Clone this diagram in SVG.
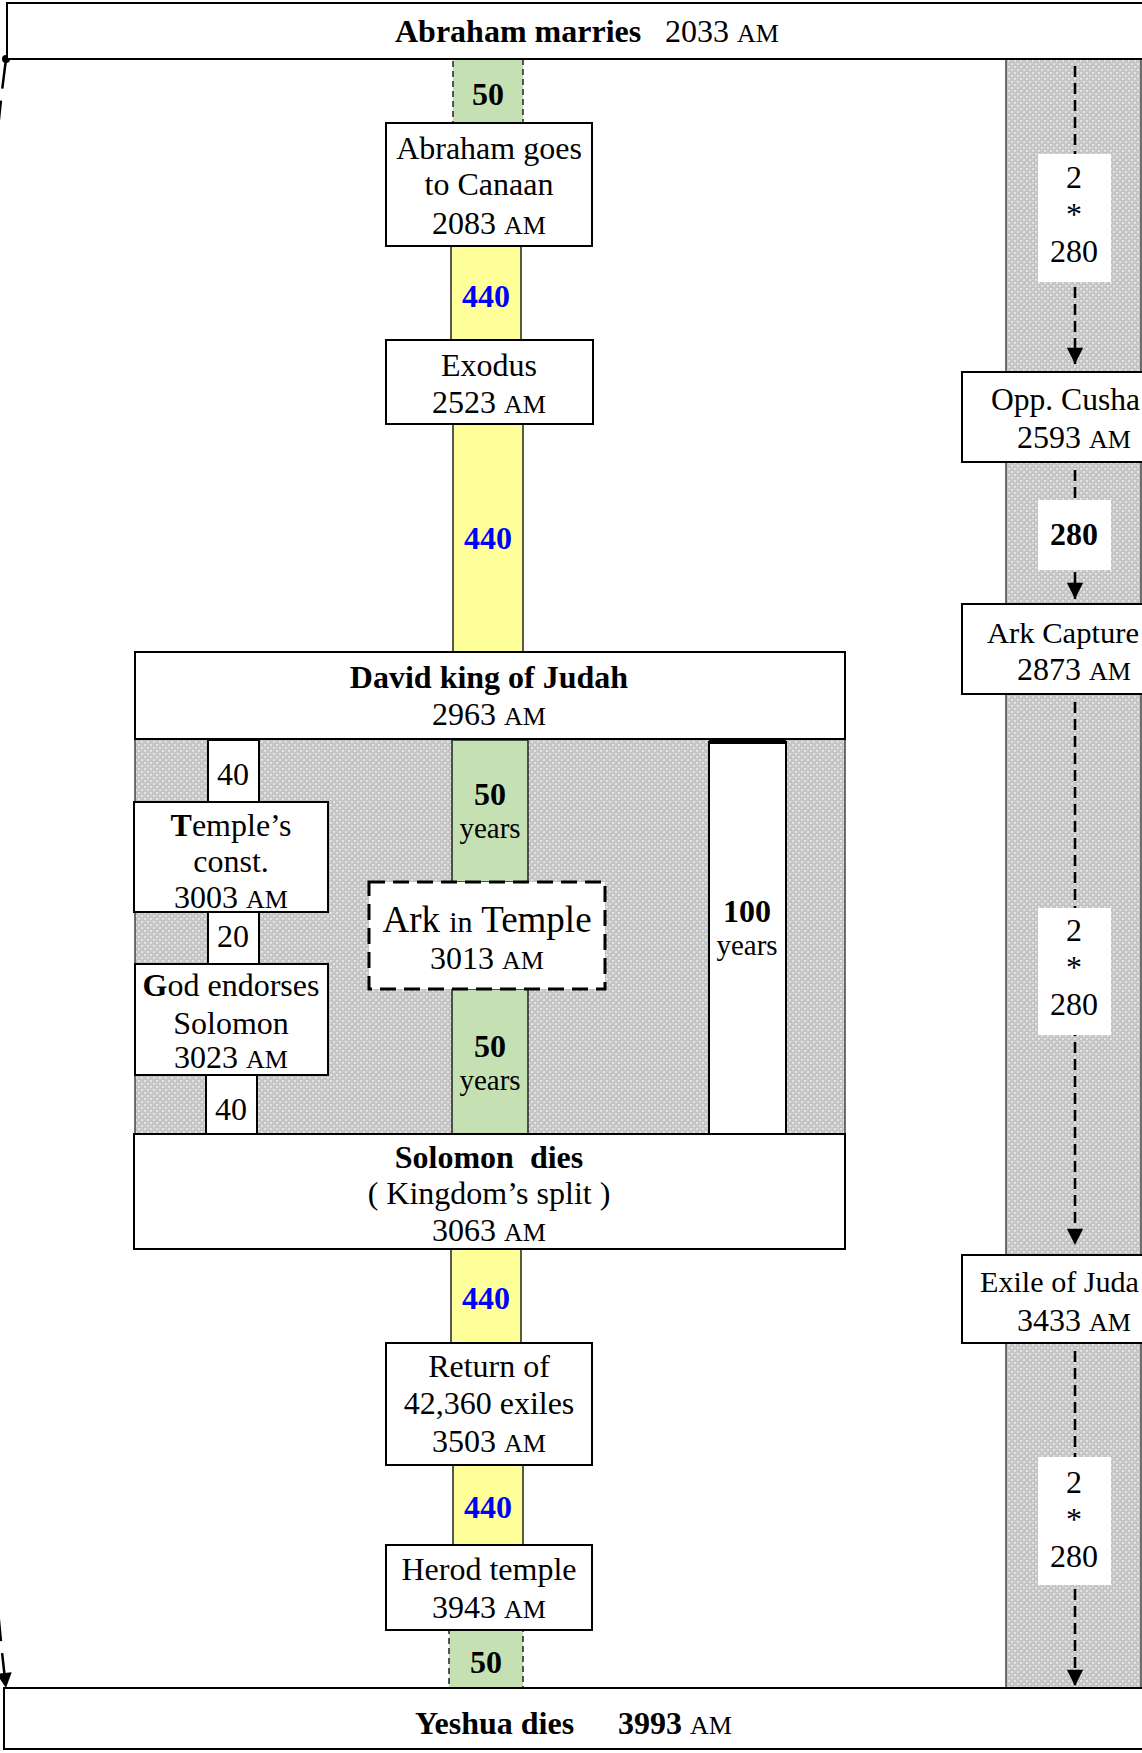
<svg xmlns="http://www.w3.org/2000/svg" width="1142" height="1753" viewBox="0 0 1142 1753">
<defs>
<pattern id="hatch" width="6" height="6" patternUnits="userSpaceOnUse">
<rect width="6" height="6" fill="#c4c4c4"/>
<rect x="0" y="0" width="2" height="2" fill="#e4e4e4"/>
<rect x="3" y="3" width="2" height="2" fill="#e4e4e4"/>
<rect x="3" y="0" width="1" height="1" fill="#d6d6d6"/>
<rect x="0" y="3" width="1" height="1" fill="#d6d6d6"/>
</pattern>
<marker id="tri" viewBox="0 0 10 10" refX="10" refY="5" markerWidth="7" markerHeight="6.5" orient="auto" markerUnits="strokeWidth">
<path d="M0,0 L10,5 L0,10 z" fill="#000"/>
</marker>
<marker id="tri2" viewBox="0 0 10 10" refX="10" refY="5" markerWidth="6.5" markerHeight="6" orient="auto" markerUnits="strokeWidth">
<path d="M0,0 L10,5 L0,10 z" fill="#000"/>
</marker>
</defs>
<style>
text{font-family:"Liberation Serif","Times New Roman",serif;fill:#000;font-size:32px}
.c{text-anchor:middle}
.b{font-weight:bold}
.sc{font-size:26px}
.yr{font-size:29px}
.r30{font-size:30px}
.ark{font-size:37px}
.in{font-size:30px}
.blue{fill:#0000ff;font-weight:bold}
.box{fill:#fff;stroke:#000;stroke-width:2}
.yel{fill:#ffff99;stroke:#222;stroke-width:1.5}
.grn{fill:#c5e0b3;stroke:#222;stroke-width:1.5}
.grnd{fill:#c5e0b3;stroke:#222;stroke-width:1.5;stroke-dasharray:6 4}
.gray{fill:url(#hatch);stroke:#444;stroke-width:1.5}
.wl{fill:#fff}
.arr{fill:none;stroke:#000;stroke-width:2.5;stroke-dasharray:11 6}
</style>

<!-- background strips -->
<rect id="right-strip" class="gray" x="1006" y="59" width="135" height="1629"/>
<rect id="mid-area" class="gray" x="135" y="739" width="710" height="395"/>

<!-- connectors -->
<g id="connectors">
<path class="arr" d="M6,59 C-40,400 -40,1300 6,1688" stroke-width="3" style="stroke-dasharray:30 12" marker-end="url(#tri2)"/>
<circle cx="6" cy="59" r="4" fill="#000"/>
<line class="arr" x1="1075" y1="66" x2="1075" y2="364" marker-end="url(#tri)"/>
<line class="arr" x1="1075" y1="470" x2="1075" y2="599" marker-end="url(#tri)"/>
<line class="arr" x1="1075" y1="702" x2="1075" y2="1245" marker-end="url(#tri)"/>
<line class="arr" x1="1075" y1="1351" x2="1075" y2="1686" marker-end="url(#tri)"/>
</g>

<!-- period bars -->
<g id="bar-50-top"><rect class="grnd" x="453" y="59" width="70" height="64"/><text class="c b" x="488" y="105">50</text></g>
<g id="bar-440-1"><rect class="yel" x="451" y="246" width="70" height="94"/><text class="c blue" x="486" y="307">440</text></g>
<g id="bar-440-2"><rect class="yel" x="453" y="424" width="70" height="228"/><text class="c blue" x="488" y="549">440</text></g>
<g id="bar-50-a"><rect class="grn" x="452" y="740" width="76" height="142"/><text class="c b" x="490" y="805">50</text><text class="c yr" x="490" y="838">years</text></g>
<g id="bar-50-b"><rect class="grn" x="452" y="989" width="76" height="145"/><text class="c b" x="490" y="1057">50</text><text class="c yr" x="490" y="1090">years</text></g>
<g id="bar-100"><rect fill="#fff" stroke="#000" stroke-width="2" x="709" y="742" width="77" height="392"/><path d="M709,742 H786" stroke="#000" stroke-width="4"/><text class="c b" x="747" y="922">100</text><text class="c yr" x="747" y="955">years</text></g>
<g id="bar-440-3"><rect class="yel" x="451" y="1249" width="70" height="94"/><text class="c blue" x="486" y="1309">440</text></g>
<g id="bar-440-4"><rect class="yel" x="453" y="1465" width="70" height="80"/><text class="c blue" x="488" y="1518">440</text></g>
<g id="bar-50-bottom"><rect class="grnd" x="449" y="1630" width="74" height="58"/><text class="c b" x="486" y="1673">50</text></g>
<g id="bar-40-a"><rect class="box" x="208" y="740" width="51" height="62" stroke-width="1.5"/><text class="c" x="233" y="785">40</text></g>
<g id="bar-20"><rect class="box" x="208" y="912" width="51" height="52" stroke-width="1.5"/><text class="c" x="233" y="947">20</text></g>
<g id="bar-40-b"><rect class="box" x="206" y="1075" width="51" height="59" stroke-width="1.5"/><text class="c" x="231" y="1120">40</text></g>

<!-- nodes -->
<g id="abraham-marries"><rect class="box" x="7" y="3" width="1145" height="56"/>
<text class="b" x="395" y="42">Abraham marries</text><text x="665" y="42">2033 <tspan class="sc">AM</tspan></text></g>

<g id="abraham-canaan"><rect class="box" x="386" y="123" width="206" height="123"/>
<text class="c" x="489" y="159">Abraham goes</text><text class="c" x="489" y="195">to Canaan</text><text class="c" x="489" y="234">2083 <tspan class="sc">AM</tspan></text></g>

<g id="exodus"><rect class="box" x="386" y="340" width="207" height="84"/>
<text class="c" x="489" y="376">Exodus</text><text class="c" x="489" y="413">2523 <tspan class="sc">AM</tspan></text></g>

<g id="david"><rect class="box" x="135" y="652" width="710" height="87"/>
<text class="c b" x="489" y="688">David king of Judah</text><text class="c" x="489" y="725">2963 <tspan class="sc">AM</tspan></text></g>

<g id="temple-const"><rect class="box" x="134" y="802" width="194" height="110"/>
<text class="c" x="231" y="836"><tspan class="b">T</tspan>emple’s</text><text class="c" x="231" y="872">const.</text><text class="c" x="231" y="908">3003 <tspan class="sc">AM</tspan></text></g>

<g id="god-endorses"><rect class="box" x="135" y="964" width="193" height="111"/>
<text class="c" x="231" y="996"><tspan class="b">G</tspan>od endorses</text><text class="c" x="231" y="1034">Solomon</text><text class="c" x="231" y="1068">3023 <tspan class="sc">AM</tspan></text></g>

<g id="ark-temple"><rect fill="#fff" stroke="#000" stroke-width="3" stroke-dasharray="16 8" x="369" y="882" width="236" height="107"/>
<text class="c ark" x="487" y="932">Ark <tspan class="in">in</tspan> Temple</text><text class="c" x="487" y="969">3013 <tspan class="sc">AM</tspan></text></g>

<g id="solomon-dies"><rect class="box" x="134" y="1134" width="711" height="115"/>
<text class="c b" x="489" y="1168">Solomon&#160; dies</text><text class="c" x="489" y="1204">( Kingdom’s split )</text><text class="c" x="489" y="1241">3063 <tspan class="sc">AM</tspan></text></g>

<g id="return-exiles"><rect class="box" x="386" y="1343" width="206" height="122"/>
<text class="c" x="489" y="1377">Return of</text><text class="c" x="489" y="1414">42,360 exiles</text><text class="c" x="489" y="1452">3503 <tspan class="sc">AM</tspan></text></g>

<g id="herod-temple"><rect class="box" x="386" y="1545" width="206" height="85"/>
<text class="c" x="489" y="1580">Herod temple</text><text class="c" x="489" y="1618">3943 <tspan class="sc">AM</tspan></text></g>

<g id="yeshua-dies"><rect class="box" x="4" y="1688" width="1145" height="61"/>
<text class="b" x="415" y="1734">Yeshua dies</text><text x="618" y="1734"><tspan class="b">3993</tspan> <tspan class="sc">AM</tspan></text></g>

<!-- right column nodes -->
<g id="lbl-1"><rect class="wl" x="1038" y="154" width="73" height="128"/>
<text class="c" x="1074" y="188">2</text><text class="c" x="1074" y="225">*</text><text class="c" x="1074" y="262">280</text></g>
<g id="opp-cushan"><rect class="box" x="962" y="372" width="200" height="90"/>
<text x="991" y="410" textLength="149" lengthAdjust="spacingAndGlyphs">Opp. Cusha</text><text class="c" x="1074" y="448">2593 <tspan class="sc">AM</tspan></text></g>
<g id="lbl-2"><rect class="wl" x="1038" y="500" width="73" height="70"/>
<text class="c b" x="1074" y="545">280</text></g>
<g id="ark-capture"><rect class="box" x="962" y="604" width="200" height="90"/>
<text class="r30" x="987" y="643" textLength="152" lengthAdjust="spacingAndGlyphs">Ark Capture</text><text class="c" x="1074" y="680">2873 <tspan class="sc">AM</tspan></text></g>
<g id="lbl-3"><rect class="wl" x="1038" y="908" width="73" height="127"/>
<text class="c" x="1074" y="941">2</text><text class="c" x="1074" y="978">*</text><text class="c" x="1074" y="1015">280</text></g>
<g id="exile-judah"><rect class="box" x="962" y="1255" width="200" height="88"/>
<text class="r30" x="980" y="1292" textLength="159" lengthAdjust="spacingAndGlyphs">Exile of Juda</text><text class="c" x="1074" y="1331">3433 <tspan class="sc">AM</tspan></text></g>
<g id="lbl-4"><rect class="wl" x="1038" y="1457" width="73" height="128"/>
<text class="c" x="1074" y="1493">2</text><text class="c" x="1074" y="1530">*</text><text class="c" x="1074" y="1567">280</text></g>
</svg>
